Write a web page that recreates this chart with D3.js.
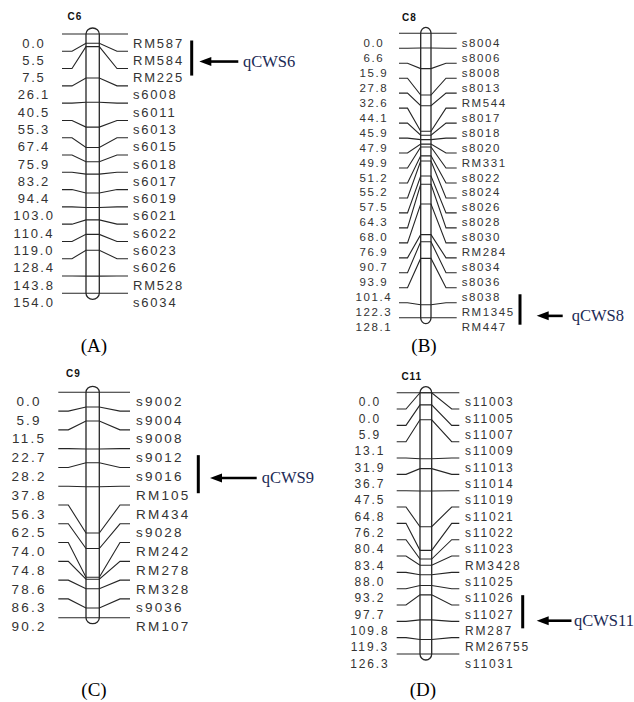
<!DOCTYPE html>
<html><head><meta charset="utf-8">
<script src="https://cdn.jsdelivr.net/npm/d3@7"></script>
<style>body{margin:0;background:#fff}</style>
</head><body>
<svg id="c" width="634" height="702"></svg>
<script>
// ---- data ----
const chromNames = ["C6", "C8", "C9", "C11"];
const panelLabels = ["(A)", "(B)", "(C)", "(D)"];

const c6Markers = ["RM587","RM584","RM225","s6008","s6011","s6013","s6015","s6018","s6017","s6019","s6021","s6022","s6023","s6026","RM528","s6034"];
const c6Pos = [0.0,5.5,7.5,26.1,40.5,55.3,67.4,75.9,83.2,94.4,103.0,110.4,119.0,128.4,143.8,154.0];

const c8Markers = ["s8004","s8006","s8008","s8013","RM544","s8017","s8018","s8020","RM331","s8022","s8024","s8026","s8028","s8030","RM284","s8034","s8036","s8038","RM1345","RM447"];
const c8Pos = [0.0,6.6,15.9,27.8,32.6,44.1,45.9,47.9,49.9,51.2,55.2,57.5,64.3,68.0,76.9,90.7,93.9,101.4,122.3,128.1];

const c9Markers = ["s9002","s9004","s9008","s9012","s9016","RM105","RM434","s9028","RM242","RM278","RM328","s9036","RM107"];
const c9Pos = [0.0,5.9,11.5,22.7,28.2,37.8,56.3,62.5,74.0,74.8,78.6,86.3,90.2];

const c11Markers = ["s11003","s11005","s11007","s11009","s11013","s11014","s11019","s11021","s11022","s11023","RM3428","s11025","s11026","s11027","RM287","RM26755","s11031"];
const c11Pos = [0.0,0.0,5.9,13.1,31.9,36.7,47.5,64.8,76.2,80.4,83.4,88.0,93.2,97.7,109.8,119.3,126.3];

const qtlNames = ["qCWS6", "qCWS8", "qCWS9", "qCWS11"];
const qtlStart = ["RM587", "s8038", "s9012", "s11026"];
const qtlEnd = ["RM225", "RM447", "RM105", "RM287"];

const markerLists = [c6Markers, c8Markers, c9Markers, c11Markers];
const posLists = [c6Pos, c8Pos, c9Pos, c11Pos];

// ---- layout (positions / sizes only) ----
const layouts = [
  {top:34, bottom:293.3, x0:86, x1:99.3, lS:[62,72], rS:[117,128], lx:33, rx:133, fs:13, ls:1.8,
   tx:75, ty:19.5, bar:191.7, tip:199.3, tail:238.3, qx:243, af:0.6, cx:94, cy:352},
  {top:33.3, bottom:317.7, x0:420.7, x1:431, lS:[399,407.5], rS:[446,456.7], lx:373, rx:461.7, fs:11.5, ls:1.6,
   tx:409.5, ty:20.5, bar:520, tip:536.7, tail:562.7, qx:571.7, af:0.71, cx:424, cy:352},
  {top:392.3, bottom:617.7, x0:86, x1:99.3, lS:[58.3,68.3], rS:[120,130], lx:28, rx:136, fs:13.5, ls:2.2,
   tx:73.5, ty:377, bar:198.3, tip:210, tail:256.7, qx:261.7, af:0.6, cx:94, cy:696},
  {top:392.7, bottom:654, x0:420, x1:431.7, lS:[396.7,406], rS:[451.7,459.3], lx:369, rx:465, fs:12, ls:1.85,
   tx:411.8, ty:379.5, bar:522.7, tip:536.7, tail:571.5, qx:574, af:0.77, cx:423, cy:696}
];

const svg = d3.select("#c");
const ink = "#262626";
const textInk = "#333";
const fmt = d3.format(".1f");
const line = d3.line();

layouts.forEach((L, i) => {
  const markers = markerLists[i], pos = posLists[i];
  const n = markers.length;
  const g = svg.append("g");
  const slot = d3.scalePoint().domain(d3.range(n)).range([L.top, L.bottom]);
  const y = d3.scaleLinear().domain([0, d3.max(pos)]).range([L.top, L.bottom]);

  // chromosome title
  g.append("text").attr("x", L.tx).attr("y", L.ty)
    .attr("text-anchor", "middle")
    .style("font-family", "'Liberation Sans', Arial, sans-serif")
    .style("font-weight", "bold").style("font-size", "10px").style("letter-spacing", "1px")
    .attr("fill", "#111").text(chromNames[i]);

  // chromosome body
  g.append("rect").attr("x", L.x0).attr("y", L.top - 6)
    .attr("width", L.x1 - L.x0).attr("height", L.bottom - L.top + 12)
    .attr("rx", (L.x1 - L.x0) / 2).attr("ry", 6)
    .attr("fill", "none").attr("stroke", ink).attr("stroke-width", 1.3);

  // marker connectors
  g.selectAll("path.m").data(d3.range(n)).join("path").attr("class", "m")
    .attr("d", j => {
      const ys = slot(j), yp = y(pos[j]);
      return line([[L.lS[0], ys], [L.lS[1], ys], [L.x0, yp], [L.x1, yp], [L.rS[0], ys], [L.rS[1], ys]]);
    })
    .attr("fill", "none").attr("stroke", ink).attr("stroke-width", 1.1);

  const font = "'Liberation Sans', Arial, sans-serif";
  // left labels (positions)
  g.selectAll("text.l").data(d3.range(n)).join("text").attr("class", "l")
    .attr("x", L.lx + L.ls / 2).attr("y", j => slot(j) + 13.5)
    .attr("text-anchor", "middle")
    .style("font-family", font).style("font-size", L.fs + "px").style("letter-spacing", L.ls + "px")
    .attr("fill", textInk).text(j => fmt(pos[j]));
  // right labels (marker names)
  g.selectAll("text.r").data(d3.range(n)).join("text").attr("class", "r")
    .attr("x", L.rx).attr("y", j => slot(j) + 13.5)
    .style("font-family", font).style("font-size", L.fs + "px").style("letter-spacing", L.ls + "px")
    .attr("fill", textInk).text(j => markers[j]);

  // QTL bar + arrow + name
  const s = markers.indexOf(qtlStart[i]), e = markers.indexOf(qtlEnd[i]);
  const y0 = slot(s) + 6.5, y1 = slot(e) + 7;
  g.append("line").attr("x1", L.bar).attr("x2", L.bar).attr("y1", y0).attr("y2", y1)
    .attr("stroke", "#000").attr("stroke-width", 3);
  const ay = y0 + L.af * (y1 - y0);
  g.append("line").attr("x1", L.tip + 8).attr("x2", L.tail).attr("y1", ay).attr("y2", ay)
    .attr("stroke", "#000").attr("stroke-width", 2.6);
  g.append("path").attr("d", line([[L.tip, ay], [L.tip + 12, ay - 4.5], [L.tip + 12, ay + 4.5]]) + "Z")
    .attr("fill", "#000");
  g.append("text").attr("x", L.qx).attr("y", ay + 5.5)
    .style("font-family", "'Liberation Serif', 'Times New Roman', serif").style("font-size", "16.5px")
    .attr("fill", "#1b2a55").text(qtlNames[i]);

  // panel caption
  g.append("text").attr("x", L.cx).attr("y", L.cy).attr("text-anchor", "middle")
    .style("font-family", "'Liberation Serif', 'Times New Roman', serif").style("font-size", "19px")
    .attr("fill", "#000").text(panelLabels[i]);
});
</script>
</body></html>
